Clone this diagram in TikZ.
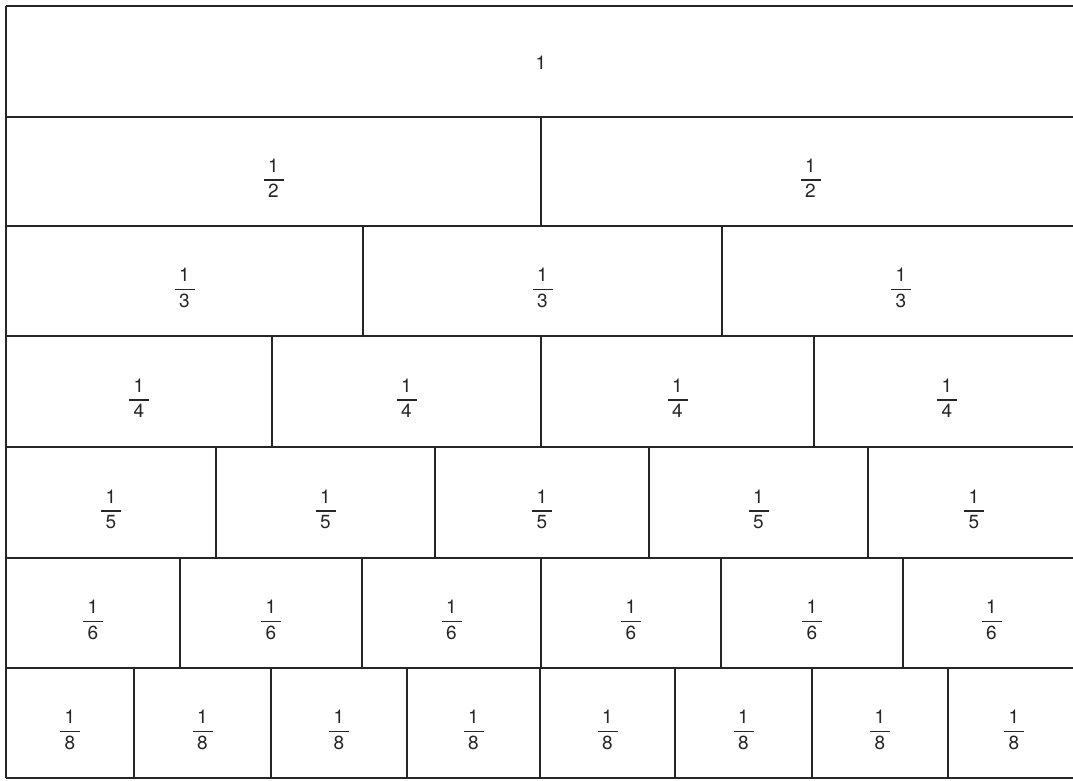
\documentclass[tikz,border=0pt]{standalone}
\usepackage{amsmath}
\usepackage{fontspec}
\setmainfont{TeX Gyre Heros}
\tikzset{
  gridline/.style={line width=1.5pt, draw=black!85, line cap=square},
  lbl/.style={font=\fontsize{19}{22}\selectfont, inner sep=0pt, text=black!85}
}
\newcommand\fr[1]{$\displaystyle\genfrac{}{}{1.3pt}{}{\hbox to 20pt{\hss 1\hss}}{\hbox{#1}}$}
\newcommand\fracrow[4]{%
  \foreach \a/\b [count=\k] in {#4} {
    \node[lbl] (f#3-\k) at ({(\a+\b)/2}, {(#1+#2)/2+7}) {\fr{#3}};
    \draw[gridline] (\b,#1) -- (\b,#2);
  }}
\begin{document}
\begin{tikzpicture}[x=1pt,y=-1pt]
  \useasboundingbox (0,0) rectangle (1073,780);
  \clip (0,0) rectangle (1073,780);
  \fill[white] (0,0) rectangle (1073,780);
  % horizontal lines
  \foreach \y in {6,117,226,336,447,558,668,778}
    \draw[gridline] (6,\y) -- (1080,\y);
  \draw[gridline] (6,6) -- (6,778);
  % row 1
  \node[lbl] (one) at (541,63) {1};
  \fracrow{117}{226}{2}{6/541,541/1080}
  \fracrow{226}{336}{3}{6/363,363/722,722/1080}
  \fracrow{336}{447}{4}{6/272,272/541,541/814,814/1080}
  \fracrow{447}{558}{5}{6/216,216/435,435/649,649/868,868/1080}
  \fracrow{558}{668}{6}{6/180,180/362,362/541,541/721,721/903,903/1080}
  \fracrow{668}{778}{8}{6/134,134/271,271/407,407/540,540/675,675/812,812/948,948/1080}
\end{tikzpicture}
\end{document}
